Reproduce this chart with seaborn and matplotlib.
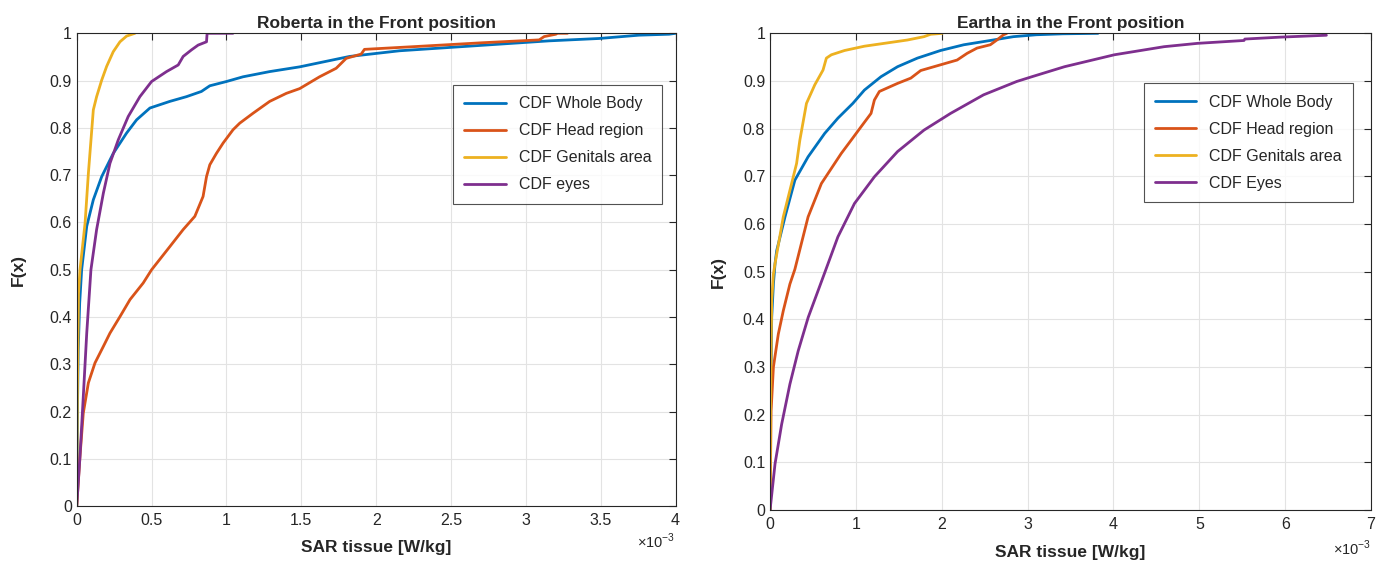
import numpy as np
import pandas as pd
import matplotlib
matplotlib.use("Agg")
import matplotlib.pyplot as plt
import seaborn as sns
from matplotlib.ticker import FuncFormatter, MultipleLocator

# === Data (SAR in units of 1e-3 W/kg, F = CDF value) ===
# Roberta
rob_body_x = [0, 0.005, 0.01, 0.02, 0.033, 0.067, 0.111, 0.167, 0.244, 0.333, 0.4, 0.489, 0.622, 0.733, 0.833,
              0.889, 1.0, 1.111, 1.289, 1.489, 1.822, 2.156, 2.489, 2.822, 3.156, 3.489, 3.756, 3.956, 4.0]
rob_body_f = [0, 0.2, 0.33, 0.43, 0.5, 0.592, 0.648, 0.697, 0.746, 0.789, 0.817, 0.842, 0.856, 0.866, 0.877,
              0.889, 0.898, 0.908, 0.919, 0.929, 0.951, 0.963, 0.97, 0.977, 0.984, 0.989, 0.996, 0.998, 1.0]
rob_head_x = [0, 0.022, 0.044, 0.078, 0.122, 0.178, 0.222, 0.289, 0.356, 0.444, 0.5, 0.622, 0.711, 0.789, 0.844,
              0.867, 0.889, 0.933, 0.978, 1.044, 1.089, 1.178, 1.289, 1.4, 1.489, 1.622, 1.733, 1.8, 1.9, 1.922,
              2.267, 2.711, 3.089, 3.122, 3.2, 3.211, 3.278]
rob_head_f = [0, 0.106, 0.197, 0.261, 0.303, 0.338, 0.366, 0.401, 0.437, 0.472, 0.5, 0.549, 0.585, 0.613, 0.655,
              0.697, 0.722, 0.746, 0.768, 0.796, 0.81, 0.831, 0.856, 0.873, 0.883, 0.908, 0.926, 0.947, 0.956,
              0.966, 0.972, 0.98, 0.986, 0.993, 0.998, 1.0, 1.0]
rob_gen_x = [0, 0.005, 0.012, 0.022, 0.056, 0.078, 0.111, 0.133, 0.167, 0.2, 0.244, 0.289, 0.333, 0.389]
rob_gen_f = [0, 0.25, 0.45, 0.5, 0.599, 0.704, 0.838, 0.866, 0.901, 0.93, 0.961, 0.982, 0.994, 1.0]
rob_eyes_x = [0, 0.022, 0.044, 0.067, 0.095, 0.133, 0.178, 0.222, 0.278, 0.344, 0.422, 0.5, 0.6, 0.678, 0.711,
              0.767, 0.811, 0.867, 0.871, 1.044]
rob_eyes_f = [0, 0.106, 0.232, 0.366, 0.5, 0.585, 0.662, 0.725, 0.775, 0.824, 0.866, 0.898, 0.919, 0.933, 0.951,
              0.965, 0.975, 0.982, 1.0, 1.0]

# Eartha
ear_body_x = [0, 0.005, 0.019, 0.039, 0.058, 0.077, 0.174, 0.289, 0.443, 0.636, 0.79, 0.964, 1.099, 1.292, 1.485,
              1.716, 1.986, 2.256, 2.565, 2.834, 3.1, 3.41, 3.82]
ear_body_f = [0, 0.2, 0.404, 0.474, 0.517, 0.544, 0.615, 0.692, 0.741, 0.79, 0.822, 0.853, 0.881, 0.909, 0.93,
              0.948, 0.964, 0.976, 0.985, 0.993, 0.997, 0.999, 1.0]
ear_head_x = [0, 0.012, 0.039, 0.096, 0.154, 0.231, 0.289, 0.443, 0.598, 0.752, 0.829, 0.945, 1.06, 1.176, 1.215,
              1.273, 1.485, 1.639, 1.755, 1.986, 2.179, 2.295, 2.41, 2.565, 2.642, 2.719, 2.757]
ear_head_f = [0, 0.208, 0.3, 0.369, 0.418, 0.474, 0.505, 0.615, 0.685, 0.727, 0.748, 0.776, 0.804, 0.832, 0.86,
              0.878, 0.895, 0.906, 0.922, 0.934, 0.944, 0.958, 0.969, 0.976, 0.986, 0.997, 1.0]
ear_gen_x = [0, 0.008, 0.019, 0.039, 0.058, 0.154, 0.251, 0.309, 0.347, 0.424, 0.521, 0.617, 0.656, 0.714, 0.868,
             1.099, 1.369, 1.6, 1.793, 1.87, 2.005]
ear_gen_f = [0, 0.264, 0.439, 0.495, 0.517, 0.615, 0.685, 0.727, 0.776, 0.853, 0.892, 0.923, 0.948, 0.955, 0.964,
             0.973, 0.98, 0.986, 0.993, 0.998, 1.0]
ear_eyes_x = [0, 0.058, 0.135, 0.231, 0.328, 0.444, 0.559, 0.645, 0.79, 0.983, 1.215, 1.485, 1.793, 2.102, 2.487,
              2.873, 3.05, 3.43, 4.01, 4.59, 4.98, 5.52, 5.53, 5.94, 6.48]
ear_eyes_f = [0, 0.097, 0.18, 0.264, 0.334, 0.404, 0.46, 0.502, 0.573, 0.643, 0.699, 0.752, 0.797, 0.832, 0.871,
              0.899, 0.909, 0.93, 0.955, 0.972, 0.979, 0.985, 0.988, 0.992, 0.996]

rob_labels = ["CDF Whole Body", "CDF Head region", "CDF Genitals area", "CDF eyes"]
ear_labels = ["CDF Whole Body", "CDF Head region", "CDF Genitals area", "CDF Eyes"]
colors = ["#0072BD", "#D95319", "#EDB120", "#7E2F8E"]
SCALE = 1e-3


def build_frame(series, labels):
    rows = []
    for (xs, fs), lab in zip(series, labels):
        for x, f in zip(xs, fs):
            rows.append({"sar": x * SCALE, "F": f, "curve": lab})
    return pd.DataFrame(rows)


rob_df = build_frame([(rob_body_x, rob_body_f), (rob_head_x, rob_head_f),
                      (rob_gen_x, rob_gen_f), (rob_eyes_x, rob_eyes_f)], rob_labels)
ear_df = build_frame([(ear_body_x, ear_body_f), (ear_head_x, ear_head_f),
                      (ear_gen_x, ear_gen_f), (ear_eyes_x, ear_eyes_f)], ear_labels)

# === Style ===
sns.set_style("white")
plt.rcParams["font.family"] = ["Liberation Sans", "DejaVu Sans"]
plt.rcParams["mathtext.fontset"] = "custom"
plt.rcParams["mathtext.rm"] = "Liberation Sans"

fig = plt.figure(figsize=(13.87, 5.64), dpi=100)
ax1 = fig.add_axes([0.0553, 0.1023, 0.4318, 0.8387])
ax2 = fig.add_axes([0.5552, 0.0957, 0.4333, 0.8452])


def draw_panel(ax, df, labels, title, xmax, xstep, legend_anchor, ylab_x, xlab_y, off_y):
    sns.lineplot(data=df, x="sar", y="F", hue="curve", hue_order=labels,
                 palette=dict(zip(labels, colors)), sort=False, estimator=None,
                 units="curve", linewidth=2, ax=ax)
    ax.set_xlim(0, xmax * SCALE)
    ax.set_ylim(0, 1)
    ax.xaxis.set_major_locator(MultipleLocator(xstep * SCALE))
    ax.yaxis.set_major_locator(MultipleLocator(0.1))
    ax.xaxis.set_major_formatter(FuncFormatter(lambda v, p: f"{v / SCALE:g}"))
    ax.yaxis.set_major_formatter(FuncFormatter(lambda v, p: f"{round(v, 2):g}"))
    ax.grid(True, color="#e3e3e3", linewidth=0.8)
    ax.set_axisbelow(True)
    ax.tick_params(direction="in", length=5, top=True, right=True, labelsize=11.5,
                   colors="#262626", width=0.8)
    ax.tick_params(axis="x", pad=5)
    for s in ax.spines.values():
        s.set_color("#262626")
        s.set_linewidth(0.8)
    ax.set_title(title, fontsize=12.5, fontweight="bold", pad=4)
    ax.set_xlabel("SAR tissue [W/kg]", fontsize=12.5, fontweight="bold", va="center")
    ax.set_ylabel("F(x)", fontsize=12.5, fontweight="bold", va="center")
    ax.xaxis.set_label_coords(0.5, xlab_y)
    ax.yaxis.set_label_coords(ylab_x, 0.5)
    ax.text(1.0, off_y, r"$\times 10^{-3}$", transform=ax.transAxes, ha="right", va="center",
            fontsize=10.5, color="#262626")
    leg = ax.legend(loc="upper right", bbox_to_anchor=legend_anchor, fontsize=11.5,
                    frameon=True, fancybox=False, borderpad=0.7, handlelength=2.6,
                    labelspacing=0.75, borderaxespad=0)
    leg.get_frame().set_edgecolor("#262626")
    leg.get_frame().set_linewidth(0.8)
    for line in leg.get_lines():
        line.set_linewidth(2)


draw_panel(ax1, rob_df, rob_labels, "Roberta in the Front position", 4, 0.5, (0.978, 0.89),
           -0.097, -0.087, -0.075)
draw_panel(ax2, ear_df, ear_labels, "Eartha in the Front position", 7, 1, (0.97, 0.895),
           -0.086, -0.09, -0.08)

fig.savefig("out.png", dpi=100)
